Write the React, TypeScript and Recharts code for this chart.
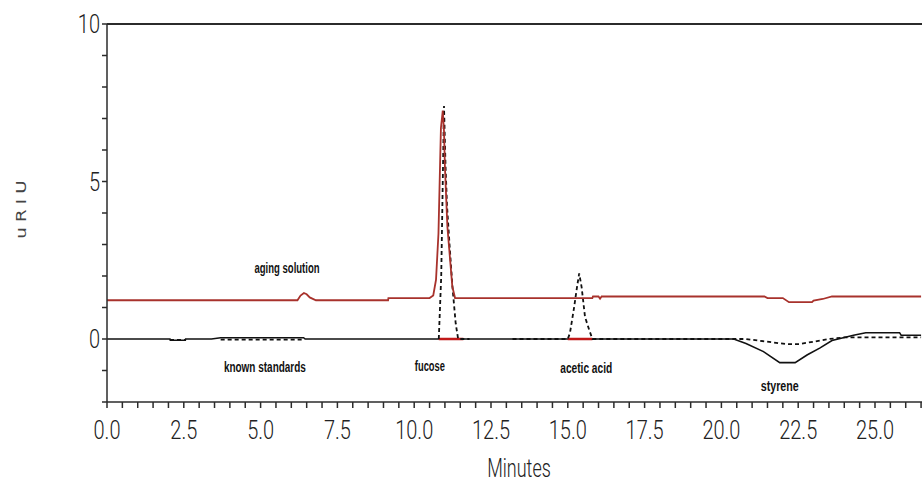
import { LineChart, Line, XAxis, YAxis, ReferenceLine, ReferenceDot } from "recharts"

// aging solution trace (red)
const agingMin = [0, 6.2, 6.3, 6.41, 6.5, 6.6, 6.8, 9.15, 9.16, 10.5, 10.62, 10.71, 10.79, 10.84, 10.87, 10.93, 10.97, 11.0, 11.08, 11.24, 11.33, 15.8, 15.82, 16.0, 16.05, 16.1, 21.4, 21.5, 22.0, 22.2, 22.95, 23.0, 23.3, 23.6, 26.5]
const agingRiu = [1.23, 1.23, 1.38, 1.46, 1.42, 1.32, 1.23, 1.23, 1.3, 1.3, 1.38, 1.88, 3.35, 5.46, 6.7, 7.25, 6.6, 5.46, 3.57, 1.67, 1.3, 1.3, 1.35, 1.35, 1.28, 1.35, 1.35, 1.3, 1.3, 1.17, 1.17, 1.22, 1.27, 1.35, 1.35]

// sample trace (solid black)
const sampleMin = [0, 2.05, 2.06, 2.55, 2.56, 3.4, 3.7, 6.4, 6.45, 20.4, 20.8, 21.37, 21.9, 22.4, 22.8, 23.2, 23.6, 24.1, 24.3, 24.7, 25.8, 25.85, 26.5]
const sampleRiu = [0, 0, -0.04, -0.04, 0, 0, 0.04, 0.04, 0, 0, -0.14, -0.4, -0.75, -0.75, -0.5, -0.29, -0.05, 0.07, 0.12, 0.2, 0.2, 0.12, 0.12]

// known standards trace (dashed black), null = no trace
const stdMin = [2.05, 2.55, 2.6, 3.7, 6.4, 6.5, 10.8, 10.88, 10.93, 10.97, 11.02, 11.07, 11.15, 11.25, 11.35, 11.43, 11.8, 11.9, 13.2, 15.0, 15.07, 15.2, 15.3, 15.37, 15.45, 15.56, 15.7, 15.8, 20.8, 22.1, 22.55, 23.5, 24.0, 26.5]
const stdRiu = [-0.03, -0.03, null, -0.02, -0.02, null, 0, 2.0, 5.0, 7.4, 5.5, 4.2, 3.0, 1.6, 0.5, 0, 0, null, 0, 0, 0.19, 0.97, 1.65, 2.08, 1.65, 0.7, 0.28, 0, 0, -0.16, -0.16, 0, 0.05, 0.05]

// integrated peak windows (red, on the baseline)
const integMin = [10.8, 11.6, 11.7, 15.0, 15.8]
const integRiu = [0, 0, null, 0, 0]

const noteText = ["aging solution", "known standards", "fucose", "acetic acid", "styrene"]
const noteMin = [5.86, 5.14, 10.51, 15.6, 21.9]
const noteRiu = [2.25, -0.89, -0.86, -0.92, -1.49]
const noteWidth = [65, 82, 30, 52, 38]

const xLabels = [0, 2.5, 5, 7.5, 10, 12.5, 15, 17.5, 20, 22.5, 25]
const yLabels = [0, 5, 10]

const xTicks = Array.from({ length: 54 }, (_, i) => i * 0.5)
const yTicks = Array.from({ length: 13 }, (_, i) => i - 2)

const toPoints = (t: number[], v: (number | null)[]) => t.map((m, i) => ({ min: m, riu: v[i] }))

const thin = "Roboto, 'DejaVu Sans', sans-serif"
const axisColor = "#2b2b2b"

function XTick({ x, y, payload }: any) {
  const v = payload.value as number
  if (!xLabels.some((l) => Math.abs(l - v) < 1e-6)) return null
  return (
    <g transform={`translate(${x},${y + 29}) scale(0.8,1)`}>
      <text textAnchor="middle" fontFamily={thin} fontWeight={300} fontSize={25} fill="#222">
        {v.toFixed(1)}
      </text>
    </g>
  )
}

function YTick({ x, y, payload }: any) {
  const v = payload.value as number
  if (!yLabels.includes(v)) return null
  return (
    <g transform={`translate(${x},${y + 9}) scale(0.8,1)`}>
      <text textAnchor="end" fontFamily={thin} fontWeight={300} fontSize={25} fill="#222">
        {v}
      </text>
    </g>
  )
}

function Note({ cx, cy, text, width }: any) {
  return (
    <text
      x={cx}
      y={cy + 5}
      textAnchor="middle"
      fontFamily="'Liberation Sans', sans-serif"
      fontWeight="bold"
      fontSize={14}
      textLength={width}
      lengthAdjust="spacingAndGlyphs"
      fill="#111"
    >
      {text}
    </text>
  )
}

export default function App() {
  return (
    <div style={{ position: "absolute", left: 0, top: 0, width: 922, height: 481, background: "#fff" }}>
      <LineChart width={922} height={481} margin={{ top: 24, right: 0, bottom: 0, left: 0 }}>
        <XAxis
          dataKey="min"
          type="number"
          domain={[0, 26.53]}
          ticks={xTicks}
          interval={0}
          tick={<XTick />}
          tickSize={6}
          height={79}
          stroke={axisColor}
          strokeWidth={1.5}
          allowDataOverflow
        />
        <YAxis
          type="number"
          domain={[-2, 10]}
          ticks={yTicks}
          interval={0}
          tick={<YTick />}
          tickSize={5}
          width={107}
          stroke={axisColor}
          strokeWidth={1.5}
          allowDataOverflow
        />
        <ReferenceLine y={10} stroke={axisColor} strokeWidth={2} />
        <Line
          data={toPoints(sampleMin, sampleRiu)}
          dataKey="riu"
          type="linear"
          stroke="#111"
          strokeWidth={1.6}
          dot={false}
          isAnimationActive={false}
        />
        <Line
          data={toPoints(integMin, integRiu)}
          dataKey="riu"
          type="linear"
          stroke="#c01818"
          strokeWidth={2.5}
          dot={false}
          isAnimationActive={false}
        />
        <Line
          data={toPoints(stdMin, stdRiu)}
          dataKey="riu"
          type="linear"
          stroke="#111"
          strokeWidth={1.8}
          strokeDasharray="4 3"
          dot={false}
          isAnimationActive={false}
        />
        <Line
          data={toPoints(agingMin, agingRiu)}
          dataKey="riu"
          type="linear"
          stroke="#a8322c"
          strokeWidth={1.8}
          dot={false}
          isAnimationActive={false}
        />
        {noteText.map((t, i) => (
          <ReferenceDot
            key={t}
            x={noteMin[i]}
            y={noteRiu[i]}
            r={0}
            shape={(p: any) => <Note cx={p.cx} cy={p.cy} text={t} width={noteWidth[i]} />}
          />
        ))}
      </LineChart>
      {/* axis titles */}
      <div
        style={{
          position: "absolute",
          left: 519,
          top: 468,
          transform: "translate(-50%, -50%) scaleX(0.72)",
          fontFamily: thin,
          fontWeight: 300,
          fontSize: 25,
          color: "#222",
          whiteSpace: "nowrap",
          lineHeight: 1,
        }}
      >
        Minutes
      </div>
      <div
        style={{
          position: "absolute",
          left: 21,
          top: 207,
          transform: "translate(-50%, -50%) rotate(-90deg) scaleX(1.3)",
          fontFamily: "'DejaVu Sans', sans-serif",
          fontSize: 14,
          letterSpacing: 4,
          color: "#444",
          whiteSpace: "nowrap",
          lineHeight: 1,
        }}
      >
        uRIU
      </div>
    </div>
  )
}
